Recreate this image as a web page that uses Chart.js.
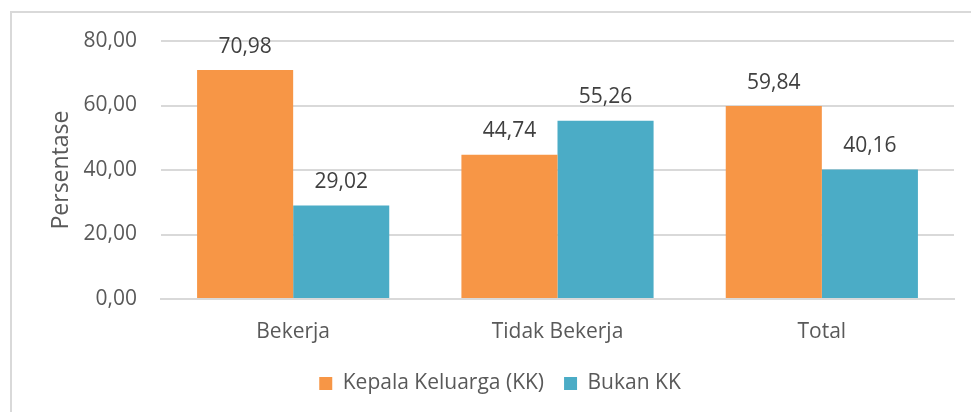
<!DOCTYPE html>
<html>
<head>
<meta charset="utf-8">
<script src="https://cdn.jsdelivr.net/npm/chart.js@4/dist/chart.umd.min.js"></script>
<style>
  html, body { margin: 0; padding: 0; background: #fff; overflow: hidden; }
  #wrap { position: relative; width: 971px; height: 412px; }
  #frame { position: absolute; left: 10px; top: 11px; width: 1000px; height: 500px; border: 2px solid #d9d9d9; box-sizing: border-box; }
  canvas { position: absolute; left: 0; top: 0; }
</style>
</head>
<body>
<div id="wrap">
  <div id="frame"></div>
  <canvas id="chart" width="971" height="412"></canvas>
</div>
<script>
const categories = ['Bekerja', 'Tidak Bekerja', 'Total'];
const kepalaKeluarga = [70.98, 44.74, 59.84];
const bukanKK = [29.02, 55.26, 40.16];
const yTicks = [0, 20, 40, 60, 80];

const fmtComma = (value) => Number(value).toFixed(2).replace('.', ',');

const barLabels = {
  id: 'barLabels',
  afterDatasetsDraw(chart) {
    const ctx = chart.ctx;
    ctx.save();
    ctx.font = '21px "Open Sans"';
    ctx.fillStyle = '#404040';
    ctx.textAlign = 'center';
    ctx.textBaseline = 'bottom';
    chart.data.datasets.forEach((dataset, i) => {
      chart.getDatasetMeta(i).data.forEach((bar, j) => {
        ctx.fillText(fmtComma(dataset.data[j]), bar.x, bar.y - 13);
      });
    });
    ctx.restore();
  },
};

Chart.defaults.font.family = '"Open Sans", sans-serif';
Chart.defaults.color = '#595959';

new Chart(document.getElementById('chart'), {
  type: 'bar',
  data: {
    labels: categories,
    datasets: [
      { label: 'Kepala Keluarga (KK)', data: kepalaKeluarga, backgroundColor: '#f79646' },
      { label: 'Bukan KK', data: bukanKK, backgroundColor: '#4bacc6' },
    ],
  },
  options: {
    responsive: false,
    animation: false,
    devicePixelRatio: 1,
    layout: { padding: { left: 46, top: 41, right: 17, bottom: 8 } },
    datasets: { bar: { categoryPercentage: 0.727, barPercentage: 1 } },
    plugins: {
      tooltip: { enabled: false },
      legend: {
        position: 'bottom',
        labels: {
          font: { size: 21 },
          color: '#595959',
          boxWidth: 13,
          boxHeight: 13,
          padding: 20,
        },
      },
    },
    scales: {
      x: {
        grid: { display: false },
        border: { color: '#d9d9d9', width: 2 },
        ticks: { font: { size: 21 }, color: '#595959', padding: 12 },
        afterFit: (scale) => { scale.height = 54; },
      },
      y: {
        min: yTicks[0],
        max: yTicks[yTicks.length - 1],
        afterBuildTicks: (scale) => { scale.ticks = yTicks.map((value) => ({ value })); },
        grid: { color: '#d9d9d9', lineWidth: 2, drawTicks: false },
        border: { display: false },
        ticks: { font: { size: 21 }, color: '#595959', padding: 24, callback: (value) => fmtComma(value) },
        title: { display: true, text: 'Persentase', font: { size: 23 }, color: '#595959', padding: { top: 2, bottom: 0 } },
        afterFit: (scale) => { scale.width = 115; },
      },
    },
  },
  plugins: [barLabels],
});
</script>
</body>
</html>
